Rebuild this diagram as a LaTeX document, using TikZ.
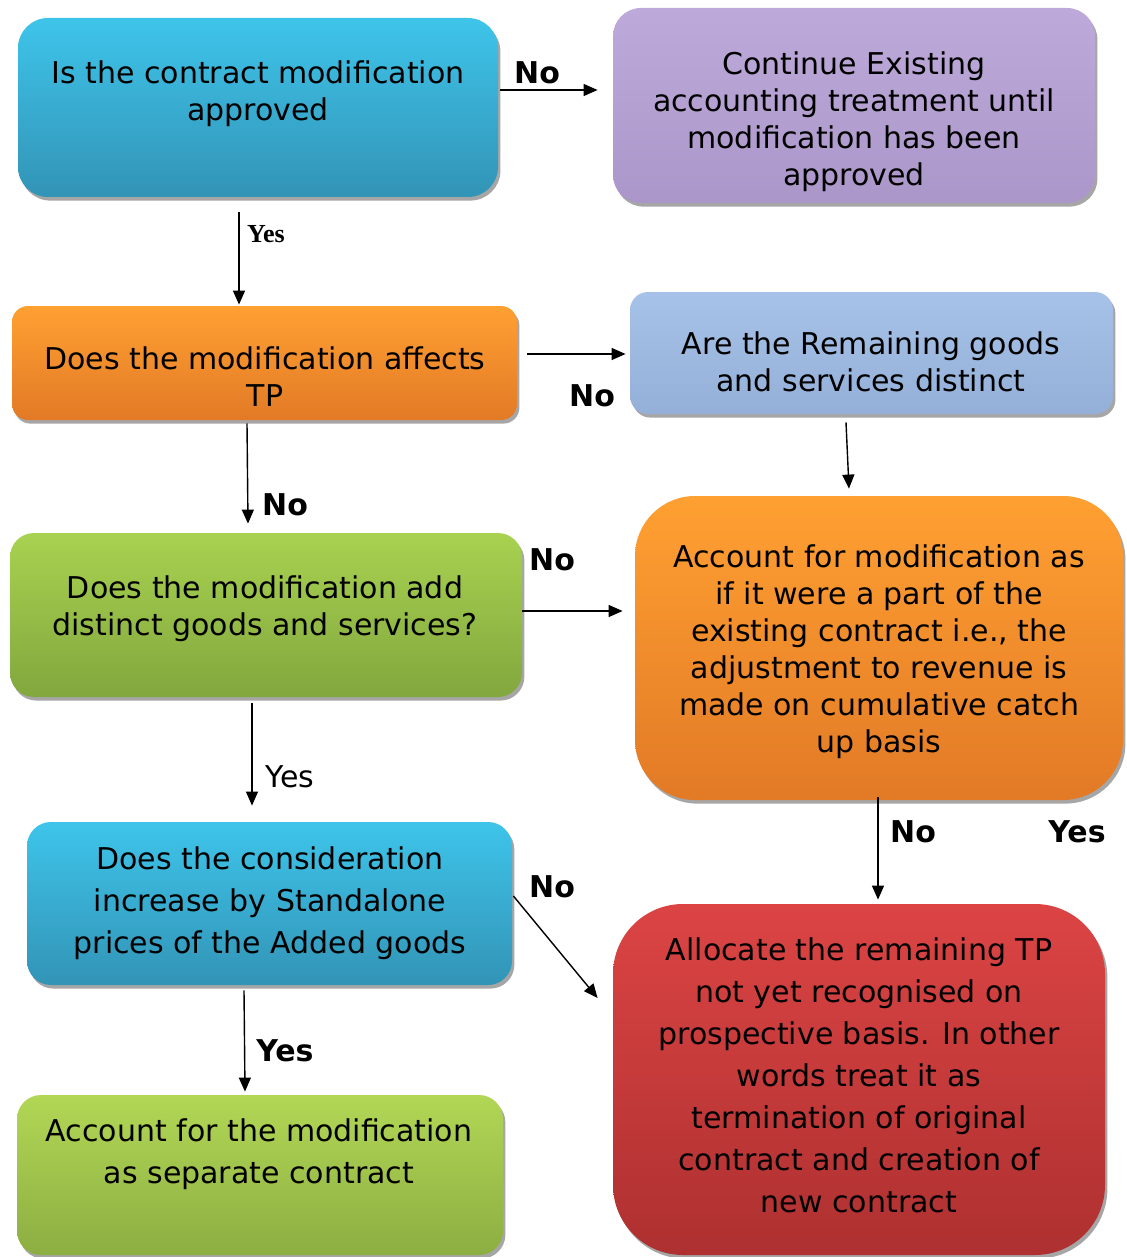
\documentclass[tikz,border=0pt]{standalone}
\usepackage{fontspec}
\setmainfont{DejaVu Sans}
\newfontfamily\timesfont{Liberation Serif}
\usetikzlibrary{arrows.meta,shadows,calc}
\definecolor{bluet}{RGB}{62,196,234}
\definecolor{blueb}{RGB}{50,148,182}
\definecolor{purpt}{RGB}{190,170,218}
\definecolor{purpb}{RGB}{170,150,200}
\definecolor{orat}{RGB}{255,160,50}
\definecolor{orab}{RGB}{226,122,38}
\definecolor{lbluet}{RGB}{166,194,232}
\definecolor{lblueb}{RGB}{148,176,216}
\definecolor{greent}{RGB}{168,210,80}
\definecolor{greenb}{RGB}{130,167,62}
\definecolor{redt}{RGB}{220,68,68}
\definecolor{redb}{RGB}{174,48,48}
\definecolor{lgreent}{RGB}{178,215,85}
\definecolor{lgreenb}{RGB}{140,174,66}
\begin{document}
\begin{tikzpicture}[x=0.5pt,y=-0.5pt,
  box/.style={rectangle, inner sep=0pt, draw=none,
    drop shadow={shadow xshift=1.2pt,shadow yshift=-1.8pt,opacity=0.35,fill=black}},
  txt/.style={align=center, font=\fontsize{15}{18.5}\selectfont, inner sep=0pt},
  txtw/.style={align=center, font=\fontsize{15}{21}\selectfont, inner sep=0pt},
  lbl/.style={font=\fontsize{15}{18}\selectfont\bfseries, inner sep=0pt},
  lblr/.style={font=\fontsize{15}{18}\selectfont, inner sep=0pt},
  arr/.style={-{Triangle[length=7pt,width=6pt]}, line width=0.7pt}
]
\useasboundingbox (0,0) rectangle (1126,1257);

% boxes
\node[box, minimum width=240pt, minimum height=89.5pt, rounded corners=15pt,
  top color=bluet, bottom color=blueb] (b1) at (258,107.5) {};
\node[box, minimum width=241pt, minimum height=97.5pt, rounded corners=14pt,
  top color=purpt, bottom color=purpb] (b2) at (854,105.5) {};
\node[box, minimum width=252.5pt, minimum height=57pt, rounded corners=8pt,
  top color=orat, bottom color=orab] (b3) at (264.5,363) {};
\node[box, minimum width=241.5pt, minimum height=61pt, rounded corners=9pt,
  top color=lbluet, bottom color=lblueb] (b4) at (871.5,353) {};
\node[box, minimum width=256pt, minimum height=82pt, rounded corners=12pt,
  top color=greent, bottom color=greenb] (b5) at (266,615) {};
\node[box, minimum width=244pt, minimum height=152pt, rounded corners=30pt,
  top color=orat, bottom color=orab] (b6) at (879,648) {};
\node[box, minimum width=242.5pt, minimum height=81.5pt, rounded corners=12pt,
  top color=bluet, bottom color=blueb] (b7) at (269.5,903.5) {};
\node[box, minimum width=246pt, minimum height=175.5pt, rounded corners=35pt,
  top color=redt, bottom color=redb] (b8) at (859,1079.5) {};
\node[box, minimum width=243pt, minimum height=80pt, rounded corners=12pt,
  top color=lgreent, bottom color=lgreenb] (b9) at (260,1175) {};

% texts
\node[txt] (t1) at (258,93.5) {Is the contract modification\\approved};
\node[txt] (t2) at (854,122) {Continue Existing\\accounting treatment until\\modification has been\\approved};
\node[txt] (t3) at (265,376.5) {Does the modification affects\\TP};
\node[txt] (t4) at (871,362) {Are the Remaining goods\\and services distinct};
\node[txt] (t5) at (265,608.5) {Does the modification add\\distinct goods and services?};
\node[txt] (t6) at (879,651.5) {Account for modification as\\if it were a part of the\\existing contract i.e., the\\adjustment to revenue is\\made on cumulative catch\\up basis};
\node[txtw] (t7) at (270,903.5) {Does the consideration\\increase by Standalone\\prices of the Added goods};
\node[txtw] (t8) at (859,1075.5) {Allocate the remaining TP\\not yet recognised on\\prospective basis. In other\\words treat it as\\termination of original\\contract and creation of\\new contract};
\node[txtw] (t9) at (259,1154.5) {Account for the modification\\as separate contract};

% connectors
\draw[arr] ($(b1.east)+(2,-17.5)$) -- ($(b2.west)+(-15,-15.5)$);
\draw[arr] ($(b1.south)+(-19,15)$) -- ($(b3.north)+(-25.5,-1)$);
\draw[arr] ($(b3.east)+(10,-9)$) -- ($(b4.west)+(-4,1)$);
\draw[arr] ($(b4.south)+(-25.5,8)$) -- ($(b6.north)+(-30,-7)$);
\draw[arr] ($(b3.south)+(-17.5,3)$) -- ($(b5.north)+(-18,-9)$);
\draw[arr] ($(b5.east)+(0,-4)$) -- ($(b6.west)+(-12,-37)$);
\draw[arr] ($(b5.south)+(-14,6)$) -- ($(b7.north)+(-17.5,-16)$);
\draw[arr] ($(b6.south)+(-1,-3)$) -- ($(b8.north)+(19,-4)$);
\draw[arr] ($(b7.east)+(1,-7.5)$) -- ($(b8.west)+(-15,-81.5)$);
\draw[arr] ($(b7.south)+(-25.5,5)$) -- ($(b9.north)+(-15,-3)$);

% labels
\node[lbl] (l1) at (537,73) {No};
\node[inner sep=0pt, font=\timesfont\fontsize{13}{15}\selectfont\bfseries] (l2) at (266,234) {Yes};
\node[lbl] (l3) at (592,396) {No};
\node[lbl] (l4) at (285,505) {No};
\node[lbl] (l5) at (552,560) {No};
\node[lblr] (l6) at (290,777) {Yes};
\node[lbl] (l7) at (913,832) {No};
\node[lbl] (l8) at (1077,832) {Yes};
\node[lbl] (l9) at (552,887) {No};
\node[lbl] (l10) at (285,1051) {Yes};
\end{tikzpicture}
\end{document}
